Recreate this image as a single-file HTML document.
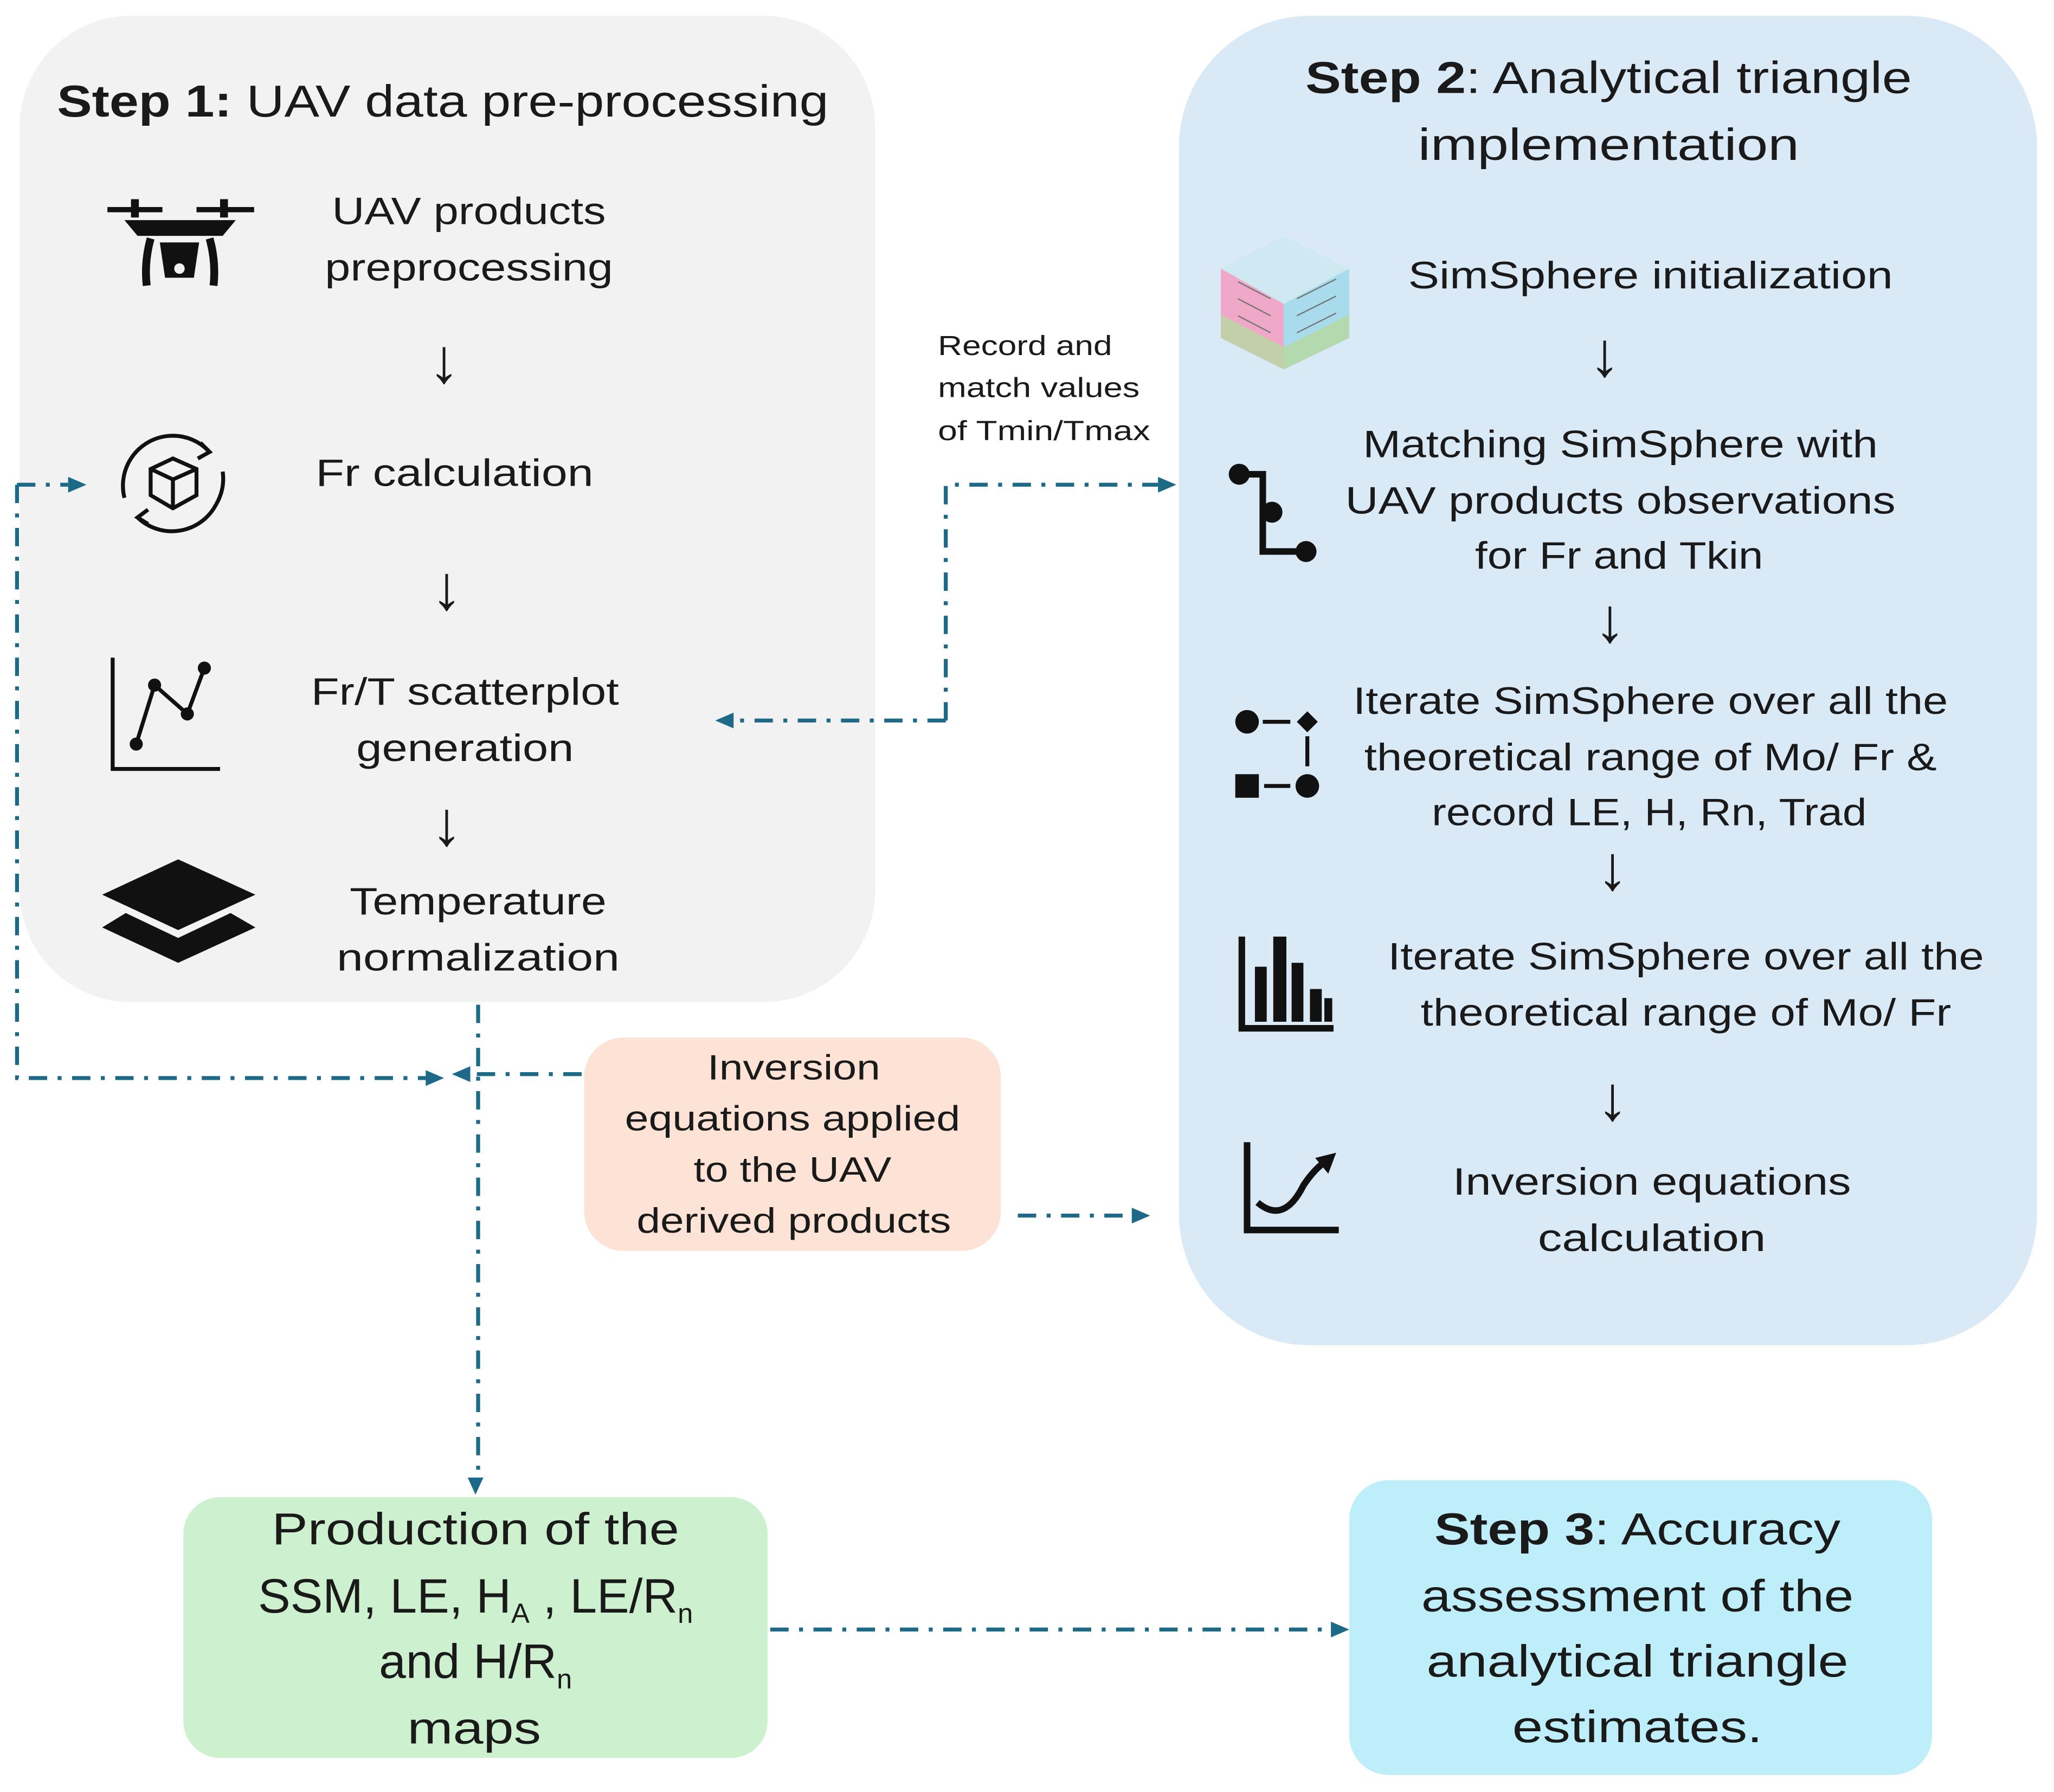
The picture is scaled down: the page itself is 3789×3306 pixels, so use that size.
<!DOCTYPE html>
<html><head><meta charset="utf-8"><style>html,body{margin:0;padding:0;background:#fff}svg{display:block}</style></head>
<body>
<svg width="3789" height="3306" viewBox="0 0 1568 1368" xmlns="http://www.w3.org/2000/svg" font-family="Liberation Sans, sans-serif">
<rect x="0" y="0" width="1568" height="1368" fill="#fff"/>
<!-- boxes -->
<rect x="15" y="12" width="653" height="753" rx="85" fill="#f2f2f2"/>
<rect x="900" y="12" width="655" height="1015" rx="100" fill="#dae9f6"/>
<rect x="446" y="792" width="318" height="163" rx="30" fill="#fde3d6"/>
<rect x="140" y="1143" width="446" height="199" rx="28" fill="#cdf0cf"/>
<rect x="1030" y="1130" width="445" height="225" rx="30" fill="#bfeefb"/>

<!-- connectors -->
<g stroke="#1d6a88" stroke-width="3" fill="none" stroke-dasharray="14 8 3 8">
<path d="M365 767 V1130"/>
<path d="M13 370 V823 H328"/>
<path d="M13 370 H52"/>
<path d="M444 820 H358"/>
<path d="M722 550 H562"/>
<path d="M722 550 V370 H884"/>
<path d="M777 928 H864"/>
<path d="M588 1244 H1015"/>
</g>
<g fill="#1d6a88">
<path d="M363 1141 l-6 -13 h12 z"/>
<path d="M339 823 l-14 -6 v12 z"/>
<path d="M66 370 l-14 -6 v12 z"/>
<path d="M345 820 l14 -6 v12 z"/>
<path d="M546 550 l14 -6 v12 z"/>
<path d="M898 370 l-14 -6 v12 z"/>
<path d="M878 928 l-14 -6 v12 z"/>
<path d="M1030 1244 l-14 -6 v12 z"/>
</g>

<!-- text -->
<g fill="#1a1a1a" text-anchor="middle" lengthAdjust="spacingAndGlyphs">
<text x="338" y="89" font-size="34" textLength="589" lengthAdjust="spacingAndGlyphs"><tspan font-weight="bold">Step 1:</tspan> UAV data pre-processing</text>
<g font-size="29">
<text x="358" y="171" textLength="209" lengthAdjust="spacingAndGlyphs">UAV products</text>
<text x="358" y="214" textLength="220" lengthAdjust="spacingAndGlyphs">preprocessing</text>
<text x="347" y="371" textLength="212" lengthAdjust="spacingAndGlyphs">Fr calculation</text>
<text x="355" y="538" textLength="235" lengthAdjust="spacingAndGlyphs">Fr/T scatterplot</text>
<text x="355" y="581" textLength="166" lengthAdjust="spacingAndGlyphs">generation</text>
<text x="365" y="698" textLength="196" lengthAdjust="spacingAndGlyphs">Temperature</text>
<text x="365" y="741" textLength="216" lengthAdjust="spacingAndGlyphs">normalization</text>
<text x="1260" y="220" textLength="370" lengthAdjust="spacingAndGlyphs">SimSphere initialization</text>
<text x="1237" y="349" textLength="393" lengthAdjust="spacingAndGlyphs">Matching SimSphere with</text>
<text x="1237" y="392" textLength="420" lengthAdjust="spacingAndGlyphs">UAV products observations</text>
<text x="1236" y="434" textLength="220" lengthAdjust="spacingAndGlyphs">for Fr and Tkin</text>
<text x="1260" y="545" textLength="454" lengthAdjust="spacingAndGlyphs">Iterate SimSphere over all the</text>
<text x="1260" y="588" textLength="437" lengthAdjust="spacingAndGlyphs">theoretical range of Mo/ Fr &amp;</text>
<text x="1259" y="630" textLength="332" lengthAdjust="spacingAndGlyphs">record LE, H, Rn, Trad</text>
<text x="1287" y="740" textLength="455" lengthAdjust="spacingAndGlyphs">Iterate SimSphere over all the</text>
<text x="1287" y="783" textLength="405" lengthAdjust="spacingAndGlyphs">theoretical range of Mo/ Fr</text>
<text x="1261" y="912" textLength="304" lengthAdjust="spacingAndGlyphs">Inversion equations</text>
<text x="1261" y="955" textLength="174" lengthAdjust="spacingAndGlyphs">calculation</text>
</g>
<g font-size="48">
<text x="339" y="292">↓</text><text x="341" y="465">↓</text><text x="341" y="645">↓</text>
<text x="1225" y="287">↓</text><text x="1229" y="490">↓</text><text x="1231" y="679">↓</text><text x="1231" y="855">↓</text>
</g>
<text x="1228" y="71" font-size="34" textLength="463" lengthAdjust="spacingAndGlyphs"><tspan font-weight="bold">Step 2</tspan>: Analytical triangle</text>
<text x="1228" y="122" font-size="34" textLength="291" lengthAdjust="spacingAndGlyphs">implementation</text>
<g font-size="27">
<text x="606" y="824" textLength="132" lengthAdjust="spacingAndGlyphs">Inversion</text>
<text x="605" y="863" textLength="256" lengthAdjust="spacingAndGlyphs">equations applied</text>
<text x="605" y="902" textLength="151" lengthAdjust="spacingAndGlyphs">to the UAV</text>
<text x="606" y="941" textLength="240" lengthAdjust="spacingAndGlyphs">derived products</text>
</g>
<g font-size="34">
<text x="363" y="1179" textLength="311" lengthAdjust="spacingAndGlyphs">Production of the</text>
<text x="363" y="1231" font-size="37">SSM, LE, H<tspan font-size="21" dy="8">A</tspan><tspan dy="-8"> , LE/R</tspan><tspan font-size="21" dy="8">n</tspan></text>
<text x="363" y="1281" font-size="37">and H/R<tspan font-size="21" dy="8">n</tspan></text>
<text x="362" y="1331" textLength="102" lengthAdjust="spacingAndGlyphs">maps</text>
<text x="1250" y="1179" textLength="310" lengthAdjust="spacingAndGlyphs"><tspan font-weight="bold">Step 3</tspan>: Accuracy</text>
<text x="1250" y="1230" textLength="330" lengthAdjust="spacingAndGlyphs">assessment of the</text>
<text x="1250" y="1280" textLength="322" lengthAdjust="spacingAndGlyphs">analytical triangle</text>
<text x="1250" y="1330" textLength="191" lengthAdjust="spacingAndGlyphs">estimates.</text>
</g>
</g>
<g fill="#1a1a1a" font-size="21">
<text x="716" y="271" textLength="133" lengthAdjust="spacingAndGlyphs">Record and</text>
<text x="716" y="303" textLength="154" lengthAdjust="spacingAndGlyphs">match values</text>
<text x="716" y="336" textLength="162" lengthAdjust="spacingAndGlyphs">of Tmin/Tmax</text>
</g>

<!-- icons -->
<g fill="#111" stroke="#111">
<!-- drone -->
<rect x="82" y="158" width="42" height="4" stroke="none"/><rect x="150" y="158" width="44" height="4" stroke="none"/>
<rect x="100" y="152" width="6" height="14" stroke="none"/><rect x="168" y="152" width="6" height="14" stroke="none"/>
<path d="M95 168 H180 L170 180 H105 Z" stroke="none"/>
<path d="M115 182 Q110 200 112 218" fill="none" stroke-width="6"/><path d="M160 182 Q165 200 163 218" fill="none" stroke-width="6"/>
<path d="M122 185 H152 L148 212 H126 Z" stroke="none"/>
<circle cx="137" cy="205" r="4" fill="#f2f2f2" stroke="none"/>
<!-- cycle -->
<g fill="none" stroke-width="3">
<path d="M100 350 A38 38 0 0 1 160 345"/><path d="M165 385 A38 38 0 0 1 105 395"/>
<path d="M95 380 A38 38 0 0 1 100 350"/><path d="M170 360 A38 38 0 0 1 165 385"/>
<path d="M153 338 L160 345 L151 350"/><path d="M113 400 L105 395 L113 389"/>
<path d="M115 358 L132 350 L150 358 L150 378 L132 388 L115 378 Z M115 358 L132 366 L150 358 M132 366 V388"/>
</g>
<!-- chart -->
<g fill="none" stroke-width="3">
<path d="M86 502 V587 H168"/><path d="M104 568 L118 523 L143 545 L156 510"/>
</g>
<circle cx="104" cy="568" r="5" stroke="none"/><circle cx="118" cy="523" r="5" stroke="none"/><circle cx="143" cy="545" r="5" stroke="none"/><circle cx="156" cy="510" r="5" stroke="none"/>
<!-- layers -->
<path d="M136 656 L195 683 L136 710 L78 683 Z" stroke="none"/>
<path d="M96 697 L78 708 L136 735 L195 708 L176 697 L136 716 Z" stroke="none"/>
<!-- path icon -->
<circle cx="946" cy="362" r="8" stroke="none"/><circle cx="971" cy="391" r="8" stroke="none"/><circle cx="997" cy="421" r="8" stroke="none"/>
<path d="M946 362 H964 V421 H997" fill="none" stroke-width="5"/>
<!-- flow icon -->
<circle cx="952" cy="551" r="9" stroke="none"/><path d="M964 551 H985" stroke-width="3"/><path d="M998 543 L1006 551 L998 559 L990 551 Z" stroke="none"/>
<path d="M998 562 V585" stroke-width="3"/>
<rect x="943" y="591" width="18" height="18" stroke="none"/><path d="M965 600 H985" stroke-width="3"/><circle cx="998" cy="600" r="9" stroke="none"/>
<!-- bar chart -->
<path d="M948 715 V785 H1018" fill="none" stroke-width="5"/>
<rect x="958" y="738" width="9" height="42" stroke="none"/><rect x="972" y="715" width="10" height="65" stroke="none"/><rect x="986" y="735" width="9" height="45" stroke="none"/><rect x="1000" y="755" width="9" height="25" stroke="none"/><rect x="1011" y="762" width="6" height="18" stroke="none"/>
<!-- curve -->
<path d="M952 872 V939 H1022" fill="none" stroke-width="5"/>
<path d="M960 918 Q980 935 995 905 Q1005 890 1015 885" fill="none" stroke-width="5"/>
<path d="M1020 880 L1004 884 L1014 896 Z" stroke="none"/>
</g>
<!-- cube -->
<g>
<path d="M980 180 L1030 205 L980 232 L932 205 Z" fill="#cfe9f2"/>
<path d="M932 205 L980 232 L980 282 L932 258 Z" fill="#f0a8c8"/>
<path d="M980 232 L1030 205 L1030 258 L980 282 Z" fill="#a8dcec"/>
<path d="M932 240 L980 265 L1030 240 L1030 258 L980 282 L932 258 Z" fill="#b8d8a0" opacity="0.8"/>
<g stroke="#777" stroke-width="1"><path d="M945 215 L970 228 M945 228 L970 241 M945 241 L970 254 M990 228 L1020 213 M990 241 L1020 226 M990 254 L1020 239"/></g>
</g>
</svg>
</body></html>
